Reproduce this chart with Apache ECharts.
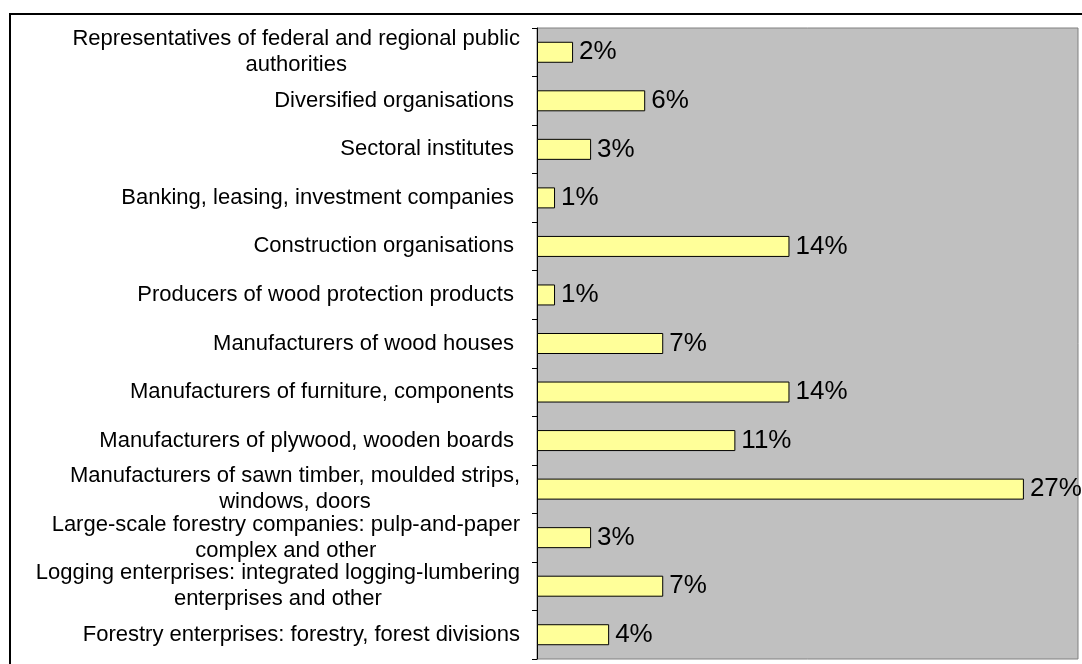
<!DOCTYPE html>
<html>
<head>
<meta charset="utf-8">
<style>
html,body{margin:0;padding:0;background:#fff;}
#chart{width:1082px;height:664px;}
</style>
<script src="https://cdn.jsdelivr.net/npm/echarts@6/dist/echarts.min.js"></script>
</head>
<body>
<div id="chart"></div>
<script>
const categories = [
  "Representatives of federal and regional public\nauthorities",
  "Diversified organisations ",
  "Sectoral institutes ",
  "Banking, leasing, investment companies ",
  "Construction organisations ",
  "Producers of wood protection products ",
  "Manufacturers of wood houses ",
  "Manufacturers of furniture, components ",
  "Manufacturers of plywood, wooden boards ",
  "Manufacturers of sawn timber, moulded strips,\nwindows, doors",
  "Large-scale forestry companies: pulp-and-paper\ncomplex and other",
  "Logging enterprises: integrated logging-lumbering\nenterprises and other",
  "Forestry enterprises: forestry, forest divisions"
];
const shares = [2, 6, 3, 1, 14, 1, 7, 14, 11, 27, 3, 7, 4];
const xMax = 30;

const FONT = "'Liberation Sans', Arial, sans-serif";
const chart = echarts.init(document.getElementById('chart'), null, {renderer: 'canvas'});
chart.setOption({
  animation: false,
  backgroundColor: '#ffffff',
  graphic: [{
    type: 'rect',
    shape: {x: 10, y: 14, width: 1200, height: 800},
    style: {fill: 'none', stroke: '#000', lineWidth: 2},
    z: -1
  }],
  grid: {
    left: 537, top: 28, right: 4, bottom: 5,
    show: true,
    backgroundColor: '#C0C0C0',
    borderColor: '#808080',
    borderWidth: 1
  },
  xAxis: {
    type: 'value', min: 0, max: xMax,
    axisLine: {show: false}, axisTick: {show: false},
    axisLabel: {show: false}, splitLine: {show: false}
  },
  yAxis: {
    type: 'category',
    inverse: true,
    data: categories,
    axisLine: {show: true, lineStyle: {color: '#000', width: 1}},
    axisTick: {show: true, length: 5, lineStyle: {color: '#000'}},
    axisLabel: {
      margin: 17,
      color: '#000',
      fontFamily: FONT,
      fontSize: 22,
      lineHeight: 26,
      formatter: function (v) {
        return v.split('\n').map(function (s) { return '{c|' + s + '}'; }).join('\n');
      },
      rich: {
        c: {align: 'center', fontFamily: FONT, fontSize: 22, lineHeight: 26, color: '#000'}
      }
    },
    splitLine: {show: false}
  },
  series: [{
    type: 'bar',
    data: shares,
    barWidth: 21,
    itemStyle: {color: '#FFFF99', borderColor: '#000', borderWidth: 1},
    label: {
      show: true, position: 'right', distance: 6,
      formatter: '{c}%', color: '#000', fontFamily: FONT, fontSize: 26
    }
  }]
});
</script>
</body>
</html>
